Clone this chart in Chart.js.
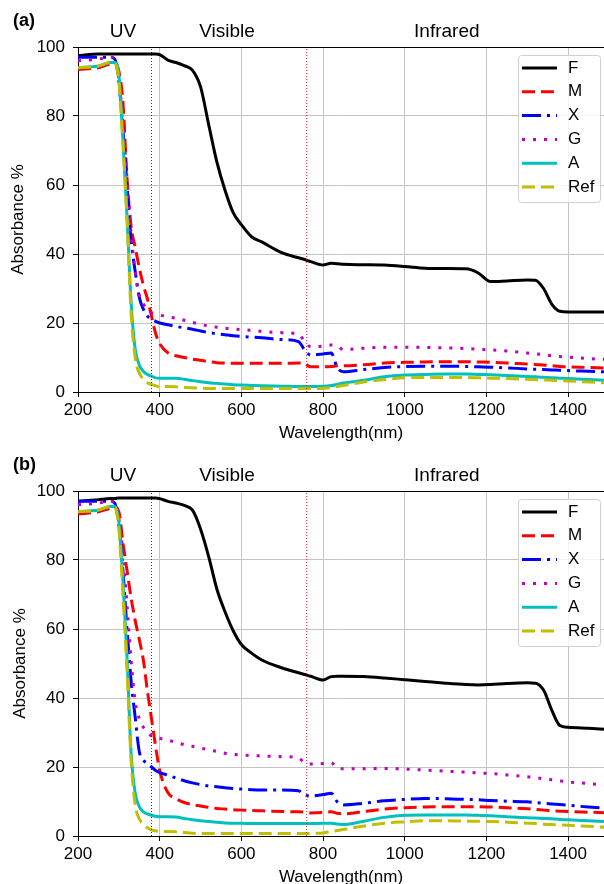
<!DOCTYPE html>
<html>
<head>
<meta charset="utf-8">
<script src="https://cdn.jsdelivr.net/npm/chart.js@4.4.0/dist/chart.umd.min.js"></script>
<style>
html, body { margin: 0; padding: 0; background: #fff; overflow: hidden; width: 604px; height: 884px; }
canvas { position: absolute; left: 0; }
#chartA { top: 0; }
#chartB { top: 440px; }
</style>
</head>
<body>
<canvas id="chartA" width="604" height="460"></canvas>
<canvas id="chartB" width="604" height="460"></canvas>
<script>
// wavelength grid (nm) shared by every curve
var Wavelengths = [200, 250, 280, 290, 300, 310, 320, 330, 340, 350, 360, 370, 380, 390, 400,
    420, 440, 460, 480, 500, 520, 540, 560, 580, 600, 625, 650, 700, 740, 755, 770, 800, 820,
    835, 850, 900, 950, 1000, 1050, 1100, 1150, 1180, 1210, 1250, 1300, 1320, 1340, 1360, 1380,
    1400, 1450, 1500];

// panel (a)
var F_a = [97.5, 98, 98, 98, 98, 98, 98, 98, 98, 98, 98, 98, 98, 98, 97.8,
    96.2, 95.5, 94.6, 93.3, 88.5, 77.5, 66.7, 58.5, 52, 48.5, 45, 43.5, 40.3, 38.9, 38.4, 37.8, 36.8, 37.3,
    37.2, 37, 36.9, 36.8, 36.4, 35.9, 35.8, 35.7, 34.5, 32, 32.2, 32.5, 32.4, 30, 25.5, 23.4,
    23.2, 23.2, 23.2];
var M_a = [93.5, 94, 95, 95, 93, 84, 62, 48, 42, 36, 31, 27, 22, 17, 14,
    11.4, 10.5, 10, 9.5, 9.2, 8.8, 8.5, 8.4, 8.3, 8.3, 8.3, 8.3, 8.3, 8.4, 8.2, 7.3, 7.3, 7.4,
    7.6, 7.6, 7.9, 8.4, 8.6, 8.7, 8.8, 8.8, 8.7, 8.6, 8.4, 8.1, 8, 7.8, 7.6, 7.4,
    7.3, 7.1, 6.9];
var X_a = [97, 97, 97, 96.5, 90, 76, 60, 44, 35, 27.5, 24, 22, 21, 20.5, 20,
    19.5, 19, 18.6, 18.2, 17.7, 17.2, 16.9, 16.6, 16.3, 16.1, 15.9, 15.7, 15.2, 14.6, 12.2, 10.7, 11, 11.3,
    7, 5.9, 6.5, 7.1, 7.4, 7.5, 7.5, 7.4, 7.3, 7.2, 7, 6.7, 6.6, 6.5, 6.4, 6.3,
    6.2, 6, 5.8];
var G_a = [96, 96.5, 97, 97, 91, 78, 62, 46, 35, 28, 25.5, 24, 23, 22.7, 22.3,
    21.8, 21.4, 20.8, 20.2, 19.6, 19.1, 18.8, 18.5, 18.3, 18.1, 17.9, 17.6, 17.2, 16.8, 14.6, 13.1, 13.3, 13.6,
    13.3, 12.3, 12.7, 13, 13, 12.9, 12.8, 12.6, 12.4, 12.2, 11.9, 11.3, 11.1, 10.8, 10.5, 10.3,
    10.1, 9.7, 9.4];
var A_a = [94, 94.5, 95.5, 95.5, 92, 73, 51, 26, 12.5, 7.8, 6, 5.1, 4.6, 4.1, 4,
    4, 4, 3.7, 3.3, 3, 2.7, 2.5, 2.3, 2.1, 2, 1.9, 1.8, 1.7, 1.6, 1.6, 1.6, 1.7, 1.9,
    2.2, 2.6, 3.4, 4.4, 4.9, 5.1, 5.2, 5.2, 5.1, 5, 4.8, 4.5, 4.4, 4.3, 4.1, 4,
    3.9, 3.6, 3.3];
var Ref_a = [94, 94.5, 95.5, 95.3, 90, 72, 50, 23, 10, 5.5, 3.8, 2.7, 2.2, 1.8, 1.5,
    1.6, 1.5, 1.3, 1.2, 1.1, 1, 1, 1, 1, 1, 1, 1, 1, 1, 1, 1, 1.1, 1.3,
    1.6, 1.9, 2.9, 3.6, 4.1, 4.2, 4.2, 4.2, 4.1, 4, 3.9, 3.7, 3.6, 3.5, 3.4, 3.3,
    3.2, 2.9, 2.6];

// panel (b)
var F_b = [97, 97.5, 97.8, 97.8, 98, 98, 98, 98, 98, 98, 98, 98, 98, 98, 97.8,
    97, 96.5, 95.8, 94.5, 89, 81, 71.6, 65, 59.5, 55.5, 53, 51, 48.7, 47.3, 46.8, 46.3, 45.2, 46.2,
    46.3, 46.3, 46.2, 45.8, 45.3, 44.8, 44.3, 43.9, 43.8, 43.9, 44.2, 44.4, 44.3, 42.3, 36.5, 32,
    31.5, 31.2, 30.9];
var M_b = [93.3, 94, 95, 95.3, 94, 85, 77, 69, 62.5, 57, 51, 42, 34, 26, 19,
    12.6, 10.8, 9.7, 9.1, 8.7, 8.3, 8, 7.8, 7.6, 7.5, 7.4, 7.3, 7.1, 7, 6.9, 6.7, 6.8, 7,
    6.6, 6.4, 7.1, 7.8, 8.2, 8.4, 8.5, 8.5, 8.5, 8.4, 8.2, 7.9, 7.7, 7.5, 7.3, 7.2,
    7.1, 6.9, 6.7];
var X_b = [97, 97, 97, 96.5, 90, 77, 60, 45, 34.5, 24.5, 22, 21, 20, 19, 18.4,
    17.6, 16.8, 16, 15.4, 14.9, 14.5, 14.3, 14, 13.8, 13.6, 13.4, 13.3, 13.3, 13.1, 11.9, 11.6, 12, 12.4,
    9.9, 9, 9.5, 10.2, 10.6, 10.9, 10.8, 10.6, 10.5, 10.3, 10.1, 9.9, 9.7, 9.5, 9.3, 9.1,
    8.9, 8.4, 8];
var G_b = [96, 96.5, 97, 97, 92, 82, 67, 51, 39, 34, 31.5, 30, 29, 28.6, 28.3,
    27.8, 27.1, 26.5, 26, 25.5, 25, 24.5, 24, 23.7, 23.5, 23.3, 23.2, 23, 22.6, 21.2, 20.9, 21, 21.2,
    19.7, 19.5, 19.5, 19.6, 19.4, 19.1, 18.8, 18.5, 18.3, 18.1, 17.7, 17.2, 16.9, 16.6, 16.3, 16,
    15.7, 15.2, 14.7];
var A_b = [94, 94.5, 95.5, 95.5, 91, 74, 52, 24, 12.5, 8.5, 7, 6.4, 6, 5.7, 5.6,
    5.6, 5.5, 5.1, 4.7, 4.4, 4.2, 4, 3.8, 3.7, 3.7, 3.6, 3.6, 3.6, 3.6, 3.6, 3.6, 3.7, 3.7,
    3.5, 3.3, 4.3, 5.4, 6, 6.1, 6.1, 6.1, 6, 5.9, 5.6, 5.3, 5.2, 5.1, 5, 4.8,
    4.7, 4.4, 4.1];
var Ref_b = [94, 94.5, 95.5, 95.3, 89, 70, 48, 22, 9, 5, 3.5, 2.4, 1.8, 1.5, 1.3,
    1.3, 1.2, 1, 0.8, 0.7, 0.7, 0.7, 0.7, 0.7, 0.7, 0.7, 0.7, 0.7, 0.7, 0.7, 0.8, 0.9, 1.3,
    1.6, 1.9, 2.9, 3.7, 4.1, 4.4, 4.4, 4.3, 4.3, 4.2, 4, 3.7, 3.6, 3.4, 3.3, 3.2,
    3.1, 2.8, 2.5];

var SeriesNames = ["F", "M", "X", "G", "A", "Ref"];
var YTicks = [0, 20, 40, 60, 80, 100];
var XTicks = [200, 400, 600, 800, 1000, 1200, 1400];
var Regions = ["UV", "Visible", "Infrared"];
var RegionCenters = [310, 565, 1103];   // nm, where each region name sits
var BandEdges = [380, 760];             // dotted UV/visible and visible/IR limits

// styles
var SeriesColors = ['#000000', '#ff0000', '#0000ff', '#bf00bf', '#00bfbf', '#bfbf00'];
var SeriesDashes = [[], [13, 6], [19, 6, 3, 6], [3, 8], [], [13, 6]];
var EdgeColors = ['#1f1fd0', '#e02020'];
var FONT = "'Liberation Sans', Arial, sans-serif";


function toPoints(values) {
    return Wavelengths.map(function (w, i) { return { x: w, y: values[i] }; });
}

// black top spine, region names and panel letter
var decorations = {
    id: 'decorations',
    afterDraw: function (chart) {
        var ctx = chart.ctx, area = chart.chartArea, xs = chart.scales.x;
        ctx.save();
        ctx.strokeStyle = '#000';
        ctx.lineWidth = 1;
        ctx.beginPath();
        ctx.moveTo(area.left, area.top + 0.5);
        ctx.lineTo(area.right, area.top + 0.5);
        ctx.stroke();

        ctx.fillStyle = '#000';
        ctx.textAlign = 'center';
        ctx.textBaseline = 'middle';
        ctx.font = '19px ' + FONT;
        for (var i = 0; i < Regions.length; i++) {
            ctx.fillText(Regions[i], xs.getPixelForValue(RegionCenters[i]), area.top - 15);
        }
        ctx.textAlign = 'left';
        ctx.font = 'bold 18px ' + FONT;
        ctx.fillText(chart.options.panelLetter, 13, area.top - 26);
        ctx.restore();
    }
};

// legend box drawn inside the plot, upper right
var insideLegend = {
    id: 'insideLegend',
    afterDraw: function (chart) {
        var ctx = chart.ctx, area = chart.chartArea;
        var x0 = area.right - 86, y0 = area.top + 8;
        ctx.save();
        ctx.fillStyle = 'rgba(255,255,255,0.8)';
        ctx.strokeStyle = '#d0d0d0';
        ctx.lineWidth = 1;
        ctx.beginPath();
        ctx.roundRect(x0 + 0.5, y0 + 0.5, 82, 147, 3);
        ctx.fill();
        ctx.stroke();

        ctx.font = '17px ' + FONT;
        ctx.textBaseline = 'middle';
        ctx.textAlign = 'left';
        var row = 0;
        chart.data.datasets.forEach(function (ds) {
            if (SeriesNames.indexOf(ds.label) === -1) return;
            var y = area.top + 21 + row * 23.8;
            ctx.strokeStyle = ds.borderColor;
            ctx.lineWidth = ds.borderWidth;
            ctx.setLineDash(ds.borderDash);
            ctx.beginPath();
            ctx.moveTo(x0 + 4, y);
            ctx.lineTo(x0 + 39, y);
            ctx.stroke();
            ctx.setLineDash([]);
            ctx.fillStyle = '#000';
            ctx.fillText(ds.label, x0 + 50, y);
            row++;
        });
        ctx.restore();
    }
};


function makeChart(canvasId, series, letter, topPad, bottomY, xTitleY, yTitleX) {
    var canvas = document.getElementById(canvasId);
    var H = canvas.height;
    var datasets = [];

    for (var i = 0; i < series.length; i++) {
        datasets.push({
            label: SeriesNames[i],
            data: toPoints(series[i]),
            borderColor: SeriesColors[i],
            borderDash: SeriesDashes[i],
            borderWidth: 3,
            borderCapStyle: 'butt',
            pointRadius: 0,
            fill: false,
            cubicInterpolationMode: 'monotone',
            order: series.length - i
        });
    }
    for (var j = 0; j < BandEdges.length; j++) {
        datasets.push({
            label: 'edge' + j,
            data: [{ x: BandEdges[j], y: 0 }, { x: BandEdges[j], y: 100 }],
            borderColor: EdgeColors[j],
            borderDash: [1, 2],
            borderWidth: 1,
            pointRadius: 0,
            order: 0
        });
    }

    return new Chart(canvas, {
        type: 'line',
        data: { datasets: datasets },
        plugins: [decorations, insideLegend],
        options: {
            panelLetter: letter,
            responsive: false,
            animation: false,
            devicePixelRatio: 1,
            layout: { padding: { top: topPad, left: 0, right: 0, bottom: 0 } },
            plugins: { legend: { display: false }, tooltip: { enabled: false } },
            scales: {
                x: {
                    type: 'linear',
                    min: 200,
                    max: 1488,
                    afterFit: function (s) { s.height = H - bottomY; },
                    afterBuildTicks: function (s) { s.ticks = XTicks.map(function (v) { return { value: v }; }); },
                    ticks: {
                        font: { family: FONT, size: 17 }, color: '#000', padding: 3, maxRotation: 0,
                        callback: function (v) { return String(v); }
                    },
                    grid: { color: '#c4c4c4', tickColor: '#000', tickLength: 5 },
                    border: { color: '#000', width: 1 },
                    title: {
                        display: true, text: 'Wavelength(nm)', color: '#000',
                        font: { family: FONT, size: 17 },
                        padding: { top: 0, bottom: H - xTitleY - 10.2 }
                    }
                },
                y: {
                    min: 0,
                    max: 100,
                    afterFit: function (s) { s.width = 78; },
                    afterBuildTicks: function (s) { s.ticks = YTicks.map(function (v) { return { value: v }; }); },
                    ticks: {
                        font: { family: FONT, size: 17 }, color: '#000', padding: 8,
                        callback: function (v) { return String(v); }
                    },
                    grid: { color: '#c4c4c4', tickColor: '#000', tickLength: 5 },
                    border: { color: '#000', width: 1 },
                    title: {
                        display: true, text: 'Absorbance %', color: '#000',
                        font: { family: FONT, size: 17 },
                        padding: { top: yTitleX - 10.2, bottom: 0 }
                    }
                }
            }
        }
    });
}

var chartA = makeChart('chartA', [F_a, M_a, X_a, G_a, A_a, Ref_a], '(a)', 47, 392, 433, 18);
var chartB = makeChart('chartB', [F_b, M_b, X_b, G_b, A_b, Ref_b], '(b)', 51, 396, 437, 20);
</script>
</body>
</html>
